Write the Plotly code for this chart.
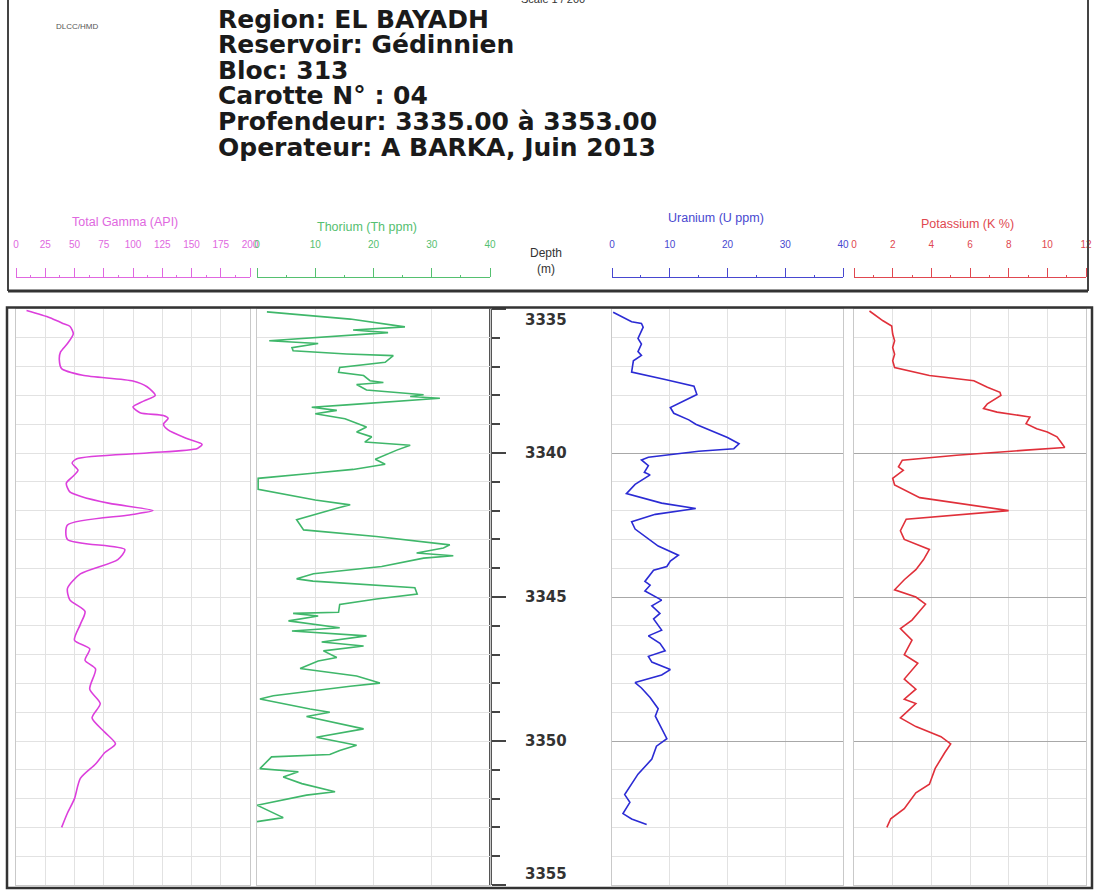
import plotly.graph_objects as go

W, H = 1096, 893

# ---------------------------------------------------------------- header text
header_lines = [
    "Region: EL BAYADH",
    "Reservoir: Gédinnien",
    "Bloc: 313",
    "Carotte N° : 04",
    "Profendeur: 3335.00 à 3353.00",
    "Operateur: A BARKA, Juin 2013",
]
agency = "DLCC/HMD"
scale_note = "Scale 1 / 200"

# ---------------------------------------------------------------- depth scale
depth_top, depth_bottom = 3335, 3355
depth_labels = [3335, 3340, 3345, 3350, 3355]

# ---------------------------------------------------------------- log curves
gr_depth = [3335.05, 3335.3, 3335.5, 3335.6, 3335.86, 3336.2, 3336.5, 3336.75, 3337.07,
            3337.3, 3337.5, 3337.7, 3338.0, 3338.2, 3338.4, 3338.6, 3338.7, 3338.8, 3339.0,
            3339.2, 3339.5, 3339.7, 3339.84, 3340.0, 3340.2, 3340.35, 3340.6, 3340.8,
            3341.05, 3341.35, 3341.5, 3341.75, 3342.0, 3342.15, 3342.5, 3343.0, 3343.35,
            3343.7, 3344.2, 3344.7, 3345.1, 3345.5, 3345.95, 3346.5, 3346.8, 3347.2, 3347.5,
            3348.2, 3348.7, 3349.2, 3349.7, 3350.1, 3350.4, 3350.8, 3351.3, 3352.0, 3352.5,
            3353.0]
gr_api = [9, 29, 40, 46, 49, 44, 38, 37, 39,
          57, 100, 112, 119, 109, 100, 106, 126, 130, 126,
          130, 146, 159, 155, 112, 52, 48, 53, 49,
          43, 46, 55, 80, 117, 97, 44, 44, 93,
          87, 55, 44, 46, 59, 55, 50, 63, 59, 68,
          63, 72, 65, 76, 85, 76, 68, 55, 50, 44,
          39]

th_depth = [3335.1, 3335.35, 3335.62, 3335.73, 3335.82, 3336.1, 3336.2, 3336.34, 3336.45,
            3336.56, 3336.62, 3336.85, 3337.03, 3337.2, 3337.31, 3337.49, 3337.55, 3337.62,
            3337.81, 3337.92, 3337.98, 3338.04, 3338.1, 3338.33, 3338.41, 3338.52, 3338.64,
            3338.81, 3339.1, 3339.27, 3339.44, 3339.62, 3339.73, 3339.9, 3340.22, 3340.39,
            3340.57, 3340.71, 3340.88, 3341.26, 3341.63, 3341.8, 3341.92, 3342.32, 3342.67,
            3342.9, 3343.19, 3343.3, 3343.47, 3343.57, 3343.65, 3343.94, 3344.19, 3344.37,
            3344.45, 3344.68, 3344.9, 3345.07, 3345.26, 3345.53, 3345.57, 3345.66, 3345.83,
            3346.07, 3346.18, 3346.35, 3346.56, 3346.7, 3346.87, 3347.1, 3347.22, 3347.48,
            3347.74, 3347.99, 3348.1, 3348.43, 3348.54, 3348.89, 3349.0, 3349.15, 3349.58,
            3349.87, 3350.15, 3350.33, 3350.47, 3350.55, 3350.96, 3351.07, 3351.25, 3351.48,
            3351.76, 3351.88, 3352.23, 3352.66, 3352.8]
th_ppm = [1.7, 16.0, 25.4, 16.5, 22.5, 2.1, 10.5, 6.0, 6.2,
          15.4, 23.4, 22.0, 14.2, 14.0, 18.3, 19.4, 21.7, 17.1,
          18.8, 25.1, 28.6, 26.3, 31.4, 15.4, 9.4, 13.7, 10.0,
          15.1, 18.8, 17.1, 19.7, 18.5, 26.3, 24.0, 20.3, 22.0,
          16.5, 9.1, 0.2, 0.2, 10.0, 16.0, 13.7, 6.8, 8.0,
          20.5, 33.1, 32.0, 27.4, 33.7, 28.6, 21.4, 9.7, 6.8,
          9.6, 27.1, 27.5, 20.5, 14.2, 14.0, 6.2, 10.5, 5.4,
          14.2, 6.0, 18.8, 11.1, 18.3, 11.4, 13.7, 10.5, 7.4,
          17.1, 21.1, 16.0, 2.8, 0.5, 9.1, 12.5, 8.5, 18.3,
          10.2, 17.1, 14.2, 12.5, 2.5, 0.5, 7.1, 4.5, 7.7,
          13.4, 8.5, 0.0, 4.5, 0.0]

u_depth = [3335.11, 3335.44, 3335.5, 3335.63, 3336.02, 3336.22, 3336.48, 3336.61, 3336.8,
           3337.19, 3337.45, 3337.68, 3337.97, 3338.42, 3338.62, 3338.85, 3339.0, 3339.2,
           3339.46, 3339.68, 3339.85, 3339.94, 3340.15, 3340.24, 3340.44, 3340.67, 3340.76,
           3341.09, 3341.41, 3341.74, 3341.93, 3342.13, 3342.39, 3342.64, 3342.97, 3343.23,
           3343.55, 3343.75, 3343.94, 3344.07, 3344.46, 3344.59, 3344.79, 3345.11, 3345.31,
           3345.57, 3345.76, 3346.15, 3346.35, 3346.61, 3346.87, 3347.06, 3347.26, 3347.52,
           3347.71, 3347.97, 3348.16, 3348.49, 3348.88, 3349.14, 3349.92, 3350.18, 3350.63,
           3351.15, 3351.86, 3352.13, 3352.52, 3352.71, 3352.9]
u_ppm = [0.2, 3.4, 5.1, 5.4, 4.5, 5.1, 4.5, 5.1, 3.7,
         3.4, 9.2, 14.2, 14.7, 10.1, 10.7, 13.3, 14.5, 16.8,
         20.0, 22.0, 21.1, 15.0, 6.3, 5.1, 6.3, 5.6, 6.6,
         4.0, 2.5, 8.6, 14.5, 7.5, 3.4, 4.0, 6.3, 8.0,
         11.5, 10.1, 9.5, 7.2, 5.7, 6.6, 5.7, 8.6, 6.9,
         8.3, 7.2, 8.6, 6.3, 8.3, 9.2, 6.3, 6.9, 10.1,
         8.6, 4.0, 5.1, 6.6, 8.0, 7.5, 9.5, 7.7, 6.9,
         4.5, 2.2, 3.1, 1.9, 3.4, 6.0]

k_depth = [3335.07, 3335.41, 3335.59, 3335.87, 3336.1, 3336.34, 3336.57, 3336.8, 3337.03,
           3337.31, 3337.49, 3337.72, 3337.89, 3338.0, 3338.29, 3338.46, 3338.58, 3338.75,
           3338.98, 3339.16, 3339.27, 3339.44, 3339.62, 3339.81, 3339.9, 3340.08, 3340.25,
           3340.48, 3340.6, 3340.88, 3341.11, 3341.4, 3341.55, 3342.0, 3342.3, 3342.7,
           3343.0, 3343.35, 3343.7, 3344.05, 3344.4, 3344.75, 3345.0, 3345.25, 3345.8,
           3346.1, 3346.5, 3347.0, 3347.3, 3347.85, 3348.2, 3348.55, 3348.7, 3349.2, 3349.5,
           3349.85, 3350.1, 3350.4, 3350.95, 3351.5, 3351.8, 3352.35, 3352.7, 3353.0]
k_pct = [0.8, 1.5, 1.95, 2.0, 2.1, 2.0, 2.1, 2.0, 2.1,
         3.9, 6.2, 6.9, 7.55, 7.6, 6.9, 6.7, 7.4, 9.1,
         8.9, 9.45, 10.0, 10.5, 10.7, 10.9, 8.9, 5.3, 2.5,
         2.3, 2.55, 2.0, 2.1, 3.0, 3.4, 8.0, 2.7, 2.4,
         2.6, 3.9, 3.6, 3.2, 2.6, 2.1, 3.2, 3.7, 3.0,
         2.4, 3.0, 2.6, 3.3, 2.6, 3.2, 2.6, 3.2, 2.4, 3.2,
         4.5, 5.0, 4.7, 4.2, 3.9, 3.2, 2.6, 1.9, 1.7]

# ---------------------------------------------------------------- track setup
tracks = [
    dict(title="Total Gamma (API)", depth=gr_depth, values=gr_api, rng=[0, 200], dtick=25,
         color="#dc3fdc", label_color="#e068e0", px=(16, 250), title_xy=(125, 222),
         dark_grid=False, shape="spline"),
    dict(title="Thorium (Th ppm)", depth=th_depth, values=th_ppm, rng=[0, 40], dtick=10,
         color="#3fb76a", label_color="#55c070", px=(257, 490), title_xy=(367, 227),
         dark_grid=False, shape="linear"),
    dict(title="Uranium (U ppm)", depth=u_depth, values=u_ppm, rng=[0, 40], dtick=10,
         color="#2b2bd4", label_color="#4848d0", px=(612, 843), title_xy=(716, 218),
         dark_grid=True, shape="linear"),
    dict(title="Potassium (K %)", depth=k_depth, values=k_pct, rng=[0, 12], dtick=2,
         color="#e0303a", label_color="#e04850", px=(854, 1086), title_xy=(967, 224),
         dark_grid=True, shape="linear"),
]

TRACK_TOP, TRACK_BOTTOM = 309, 885
SCALE_BAR_Y = 277
LIGHT_GRID = "#e2e2e2"
BORDER = "#c9c9c9"


def fx(px):
    return px / W


def fy(py):
    return 1 - py / H


y_domain = [fy(TRACK_BOTTOM), fy(TRACK_TOP)]

fig = go.Figure()
layout = dict(
    width=W, height=H, margin=dict(l=0, r=0, t=0, b=0, autoexpand=False),
    paper_bgcolor="white", plot_bgcolor="rgba(0,0,0,0)", showlegend=False,
    font=dict(family="Liberation Sans, Arial, sans-serif", color="#222"),
)
annotations = []
shapes = []

# hidden helper axis that carries the header scale bars
layout["yaxis6"] = dict(domain=[fy(290), fy(200)], range=[0, 1], visible=False,
                        anchor="free", position=0, fixedrange=True)

for i, t in enumerate(tracks, start=1):
    xa = "x" if i == 1 else f"x{i}"
    ya = "y" if i == 1 else f"y{i}"
    fig.add_trace(go.Scatter(
        x=t["values"], y=t["depth"], xaxis=xa, yaxis=ya, mode="lines",
        line=dict(color=t["color"], width=1.6, shape=t["shape"], smoothing=0.7),
        hoverinfo="skip",
    ))
    dom = [fx(t["px"][0]), fx(t["px"][1])]
    layout[f"xaxis{'' if i == 1 else i}"] = dict(
        domain=dom, range=t["rng"], anchor=ya, dtick=t["dtick"], tick0=0,
        showgrid=True, gridcolor=LIGHT_GRID, gridwidth=1, zeroline=False,
        showline=True, mirror=True, linecolor=BORDER, linewidth=1,
        showticklabels=False, ticks="", fixedrange=True, automargin=False,
    )
    yax = dict(
        domain=y_domain, range=[depth_bottom, depth_top], anchor=xa,
        dtick=5, tick0=depth_top, showgrid=True,
        gridcolor="#a8a8a8" if t["dark_grid"] else LIGHT_GRID, gridwidth=1,
        minor=dict(dtick=1, tick0=depth_top, showgrid=True, gridcolor=LIGHT_GRID, gridwidth=1),
        zeroline=False, showline=True, mirror=True, linecolor=BORDER, linewidth=1,
        showticklabels=False, ticks="", fixedrange=True, automargin=False,
    )
    if i > 1:
        yax["matches"] = "y"
    layout[f"yaxis{'' if i == 1 else i}"] = yax

    # header scale bar for the track
    fig.add_trace(go.Scatter(x=[None], y=[None], xaxis=f"x{i + 4}", yaxis="y6",
                             mode="lines", hoverinfo="skip"))
    layout[f"xaxis{i + 4}"] = dict(
        domain=dom, range=t["rng"], anchor="free", position=fy(SCALE_BAR_Y), side="top",
        tickmode="linear", tick0=0, dtick=t["dtick"], ticks="outside", ticklen=9,
        tickwidth=1, tickcolor=t["label_color"], showline=True, linecolor=t["label_color"],
        linewidth=1, showgrid=False, zeroline=False, ticklabelstandoff=16,
        tickfont=dict(size=10, color=t["label_color"]),
        minor=dict(ticks="outside", ticklen=2, nticks=3, tickcolor=t["label_color"]),
        fixedrange=True, automargin=False,
    )
    annotations.append(dict(
        text=t["title"], xref="paper", yref="paper",
        x=fx(t["title_xy"][0]), y=fy(t["title_xy"][1]), xanchor="center", yanchor="middle",
        showarrow=False, font=dict(size=12.5, color=t["label_color"]),
    ))

# depth axis between thorium and uranium tracks
fig.add_trace(go.Scatter(x=[None], y=[None], xaxis="x", yaxis="y5", mode="lines",
                         hoverinfo="skip"))
layout["yaxis5"] = dict(
    overlaying="y", anchor="free", position=fx(490), side="right",
    domain=y_domain, range=[depth_bottom, depth_top], tickmode="linear", tick0=depth_top,
    dtick=5, ticks="outside", ticklen=14, tickwidth=2, tickcolor="#444",
    minor=dict(ticks="outside", dtick=1, ticklen=8, tickwidth=2, tickcolor="#444"),
    showline=True, linewidth=3, linecolor="#555", showgrid=False, zeroline=False,
    showticklabels=False, fixedrange=True, automargin=False,
)
label_shift = {depth_top: -11, depth_bottom: 11}
for d in depth_labels:
    annotations.append(dict(
        text=f"<b>{d}</b>", xref="paper", yref="y", x=fx(546), y=d,
        yshift=label_shift.get(d, 0), xanchor="center", yanchor="middle", showarrow=False,
        font=dict(family="DejaVu Sans, sans-serif", size=15, color="#333"),
    ))
annotations.append(dict(
    text="Depth<br>(m)", xref="paper", yref="paper", x=fx(546), y=fy(261),
    xanchor="center", yanchor="middle", showarrow=False,
    font=dict(size=12, color="#333"),
))

# title block
for k, line in enumerate(header_lines):
    annotations.append(dict(
        text=f"<b>{line}</b>", xref="paper", yref="paper", x=fx(216), y=fy(19 + k * 25.6),
        xanchor="left", yanchor="middle", showarrow=False,
        font=dict(family="DejaVu Sans, sans-serif", size=25, color="#1a1a1a"),
    ))
annotations.append(dict(
    text=agency, xref="paper", yref="paper", x=fx(77), y=fy(27),
    xanchor="center", yanchor="middle", showarrow=False,
    font=dict(size=8, color="#555"),
))
annotations.append(dict(
    text=scale_note, xref="paper", yref="paper", x=fx(553), y=fy(-1),
    xanchor="center", yanchor="middle", showarrow=False,
    font=dict(size=11, color="#333"),
))

# frames
shapes += [
    dict(type="line", xref="paper", yref="paper", x0=fx(8), x1=fx(8), y0=fy(0), y1=fy(291),
         line=dict(color="#444", width=2)),
    dict(type="line", xref="paper", yref="paper", x0=fx(1088), x1=fx(1088), y0=fy(0), y1=fy(291),
         line=dict(color="#444", width=2)),
    dict(type="line", xref="paper", yref="paper", x0=fx(8), x1=fx(1088), y0=fy(291), y1=fy(291),
         line=dict(color="#333", width=3)),
    dict(type="rect", xref="paper", yref="paper", x0=fx(7), x1=fx(1092), y0=fy(888), y1=fy(307.5),
         line=dict(color="#333", width=2.5)),
]

layout["annotations"] = annotations
layout["shapes"] = shapes
fig.update_layout(**layout)
fig.write_html("out.html")
